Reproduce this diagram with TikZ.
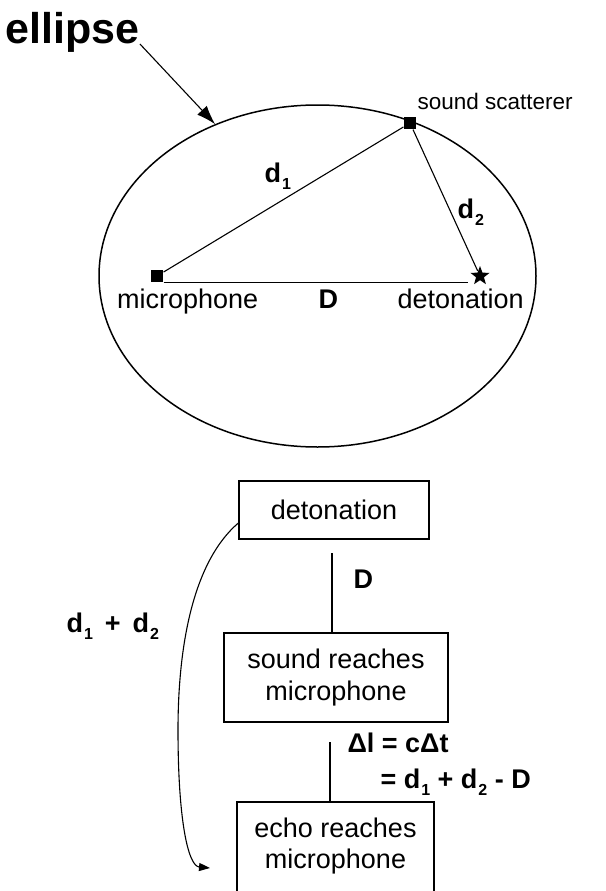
\documentclass[tikz,border=0pt]{standalone}
\usepackage{fontspec}
\setmainfont{Liberation Sans}
\usetikzlibrary{shapes.geometric,arrows.meta}
\newcommand{\lowsub}[1]{\kern1pt\raisebox{-7pt}{\fontsize{16}{16}\selectfont#1}}

\begin{document}
\begin{tikzpicture}[x=1pt, y=-1pt, line width=1.1pt,
  every node/.style={font=\fontsize{27}{32}\selectfont},
  lab/.style={inner sep=0pt, anchor=base west},
  sym/.style={lab, font=\bfseries\fontsize{27}{30}\selectfont},
  dot/.style={fill, inner sep=0pt, minimum size=12pt},
  stage/.style={draw, align=center, inner sep=0pt, line width=1.3pt}]
  \clip (0,0) rectangle (605,891);
  % ellipse with its two foci and the scatterer
  \node[draw, ellipse, line width=1.5pt, inner sep=0pt, minimum width=437pt, minimum height=342pt] (oval) at (317.5,276) {};
  \node[lab, font=\bfseries\fontsize{43}{48}\selectfont] (title) at (5,44) {ellipse};
  \draw[-{Latex[length=19pt,width=13pt]}] (title.base east) -- (oval.124);
  \node[dot] (mic) at (157,276) {};
  \node[dot] (scat) at (410,123) {};
  \node[star, star points=5, star point ratio=2.4, fill, inner sep=0pt, minimum size=20pt] (blast) at (480,276) {};
  \draw (mic) -- (scat);
  \draw (scat) -- (blast);
  \draw (mic.south east) -- ([xshift=-6pt]blast.west |- mic.south east);
  \node[lab, font=\fontsize{22.5}{26}\selectfont] at (417,109) {sound scatterer};
  \node[lab] at (116.5,308) {microphone};
  \node[lab] at (397,308) {detonation};
  \node[sym] at (318,308) {D};
  \node[sym] at (264,182) {d\lowsub{1}};
  \node[sym] at (457,218) {d\lowsub{2}};

  % time line
  \node[stage, minimum width=190pt, minimum height=58pt] (det) at (334,510) {detonation};
  \node[stage, minimum width=224pt, minimum height=89pt] (reach) at (336,677.5) {sound reaches\\microphone};
  \node[align=center, inner sep=0pt, font=\fontsize{27}{31}\selectfont] (echo) at (335.5,845.7) {echo reaches\\microphone};
  \draw[line width=1.3pt] (237,895) |- (434,802) -- (434,895);
  \coordinate (echotop) at (330,802);
  \coordinate (d0) at (332,553);
  \coordinate (e0) at (330,742);
  \draw (d0) -- (d0 |- reach.north);
  \draw (e0) -- (echotop);
  \node[sym] at (353,588) {D};
  \node[sym] at (347,752) {Δl = cΔt};
  \node[sym] at (380,788) {= d\lowsub{1} + d\lowsub{2} - D};
  \draw[-{Triangle[length=11pt,width=8pt]}] ([yshift=-13pt]det.west) .. controls (195,560) and (178,640) .. (178,730) .. controls (178,820) and (188,866) .. (210,868);
  \node[sym] at (66,632) {d\lowsub{1}\ \,+\ \,d\lowsub{2}};
\end{tikzpicture}
\end{document}
